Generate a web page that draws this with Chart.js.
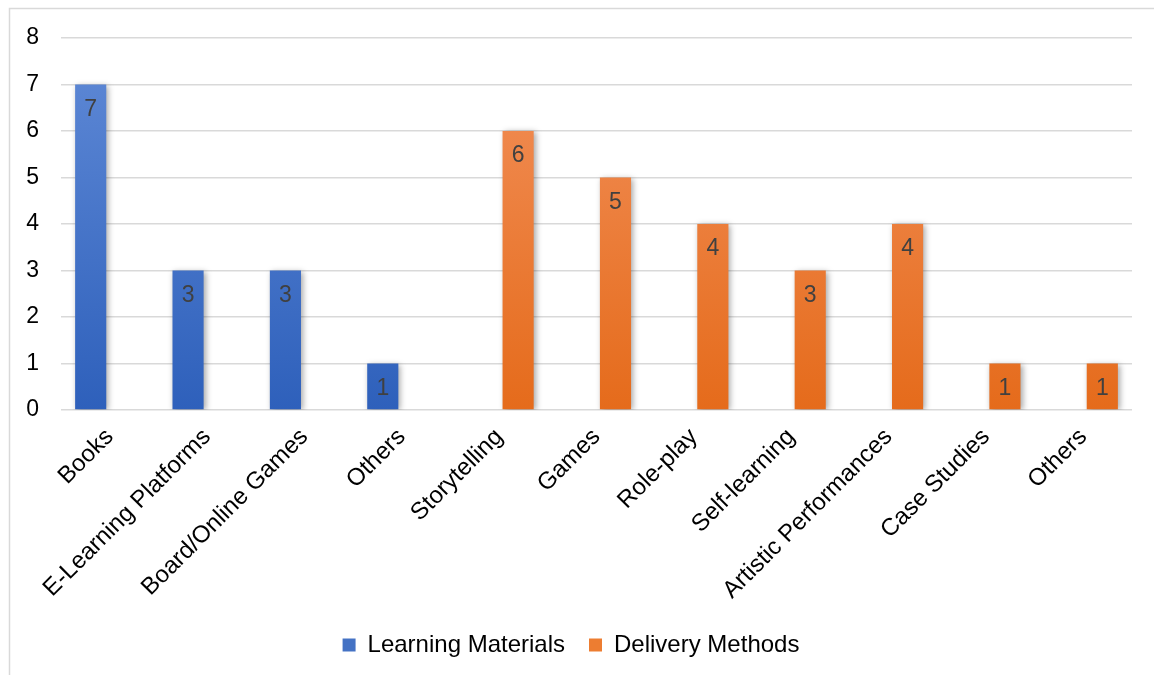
<!DOCTYPE html>
<html>
<head>
<meta charset="utf-8">
<script src="https://cdn.jsdelivr.net/npm/chart.js@4/dist/chart.umd.min.js"></script>
<style>
  html, body { margin: 0; padding: 0; background: #fff; }
  #wrap { position: absolute; left: 0; top: 0; width: 1154px; height: 675px; }
</style>
</head>
<body>
<div id="wrap"><canvas id="myChart" width="1154" height="675"></canvas></div>
<script>
const categories = ['Books', 'E-Learning Platforms', 'Board/Online Games', 'Others', 'Storytelling',
    'Games', 'Role-play', 'Self-learning', 'Artistic Performances', 'Case Studies', 'Others'];
const learningMaterials = [7, 3, 3, 1, null, null, null, null, null, null, null];
const deliveryMethods = [null, null, null, null, 6, 5, 4, 3, 4, 1, 1];
const yTicks = [0, 1, 2, 3, 4, 5, 6, 7, 8];

const FONT = "'Liberation Sans', Arial, sans-serif";

function barGradient(top, bottom) {
    return function (c) {
        const area = c.chart.chartArea;
        if (!area) return bottom;
        const g = c.chart.ctx.createLinearGradient(0, area.top + (area.bottom - area.top) * 0.1, 0, area.bottom);
        g.addColorStop(0, top);
        g.addColorStop(1, bottom);
        return g;
    };
}

// outer frame + bar shadows + value labels
const decor = {
    id: 'decor',
    beforeDraw(chart) {
        const c = chart.ctx;
        c.save();
        c.strokeStyle = '#d9d9d9';
        c.lineWidth = 1.5;
        c.strokeRect(9.5, 8.5, 1200, 700);
        c.restore();
    },
    beforeDatasetsDraw(chart) {
        const c = chart.ctx;
        c.save();
        c.shadowColor = 'rgba(0,0,0,0.35)';
        c.shadowBlur = 6;
        c.shadowOffsetX = 2;
        c.shadowOffsetY = 1;
    },
    afterDatasetsDraw(chart) {
        const c = chart.ctx;
        c.restore();
        c.save();
        c.font = '23px ' + FONT;
        c.fillStyle = '#404040';
        c.textAlign = 'center';
        c.textBaseline = 'middle';
        chart.data.datasets.forEach((ds, i) => {
            chart.getDatasetMeta(i).data.forEach((bar, j) => {
                const v = ds.data[j];
                if (v === null || v === undefined) return;
                c.fillText(String(v), bar.x, bar.y + 25);
            });
        });
        c.restore();
    }
};

const ctx = document.getElementById('myChart').getContext('2d');
const myChart = new Chart(ctx, {
    type: 'bar',
    data: {
        labels: categories,
        datasets: [{
            label: 'Learning Materials',
            data: learningMaterials,
            backgroundColor: barGradient('#5b86d4', '#2e60bb'),
            legendColor: '#4472c4',
            categoryPercentage: 0.78,
            barPercentage: 0.82
        },
        {
            label: 'Delivery Methods',
            data: deliveryMethods,
            backgroundColor: barGradient('#f18d55', '#e56b1b'),
            legendColor: '#ed7d31',
            categoryPercentage: 0.78,
            barPercentage: 0.82
        }]
    },
    options: {
        responsive: false,
        animation: false,
        layout: { padding: { left: 10, top: 38, right: 22, bottom: 8 } },
        plugins: {
            tooltip: { enabled: false },
            legend: {
                position: 'bottom',
                labels: {
                    boxWidth: 13,
                    boxHeight: 13,
                    padding: 24,
                    color: '#000',
                    font: { family: FONT, size: 24 },
                    generateLabels(chart) {
                        return chart.data.datasets.map((ds, i) => ({
                            text: ds.label,
                            fillStyle: ds.legendColor,
                            strokeStyle: ds.legendColor,
                            lineWidth: 0,
                            fontColor: '#000',
                            datasetIndex: i
                        }));
                    }
                }
            }
        },
        scales: {
            x: {
                grid: { display: false, drawTicks: false },
                border: { display: false },
                ticks: {
                    color: '#000',
                    font: { family: FONT, size: 24 },
                    minRotation: 45,
                    maxRotation: 45,
                    padding: 13,
                    autoSkip: false
                },
                afterFit(scale) { scale.height = 199; }
            },
            y: {
                min: 0,
                max: 8,
                afterBuildTicks(scale) { scale.ticks = yTicks.map(v => ({ value: v })); },
                grid: { color: '#d9d9d9', lineWidth: 1.5, drawTicks: false },
                border: { display: false },
                ticks: {
                    color: '#000',
                    font: { family: FONT, size: 23 },
                    padding: 22
                },
                afterFit(scale) { scale.width = 51; }
            }
        }
    },
    plugins: [decor]
});
</script>
</body>
</html>
